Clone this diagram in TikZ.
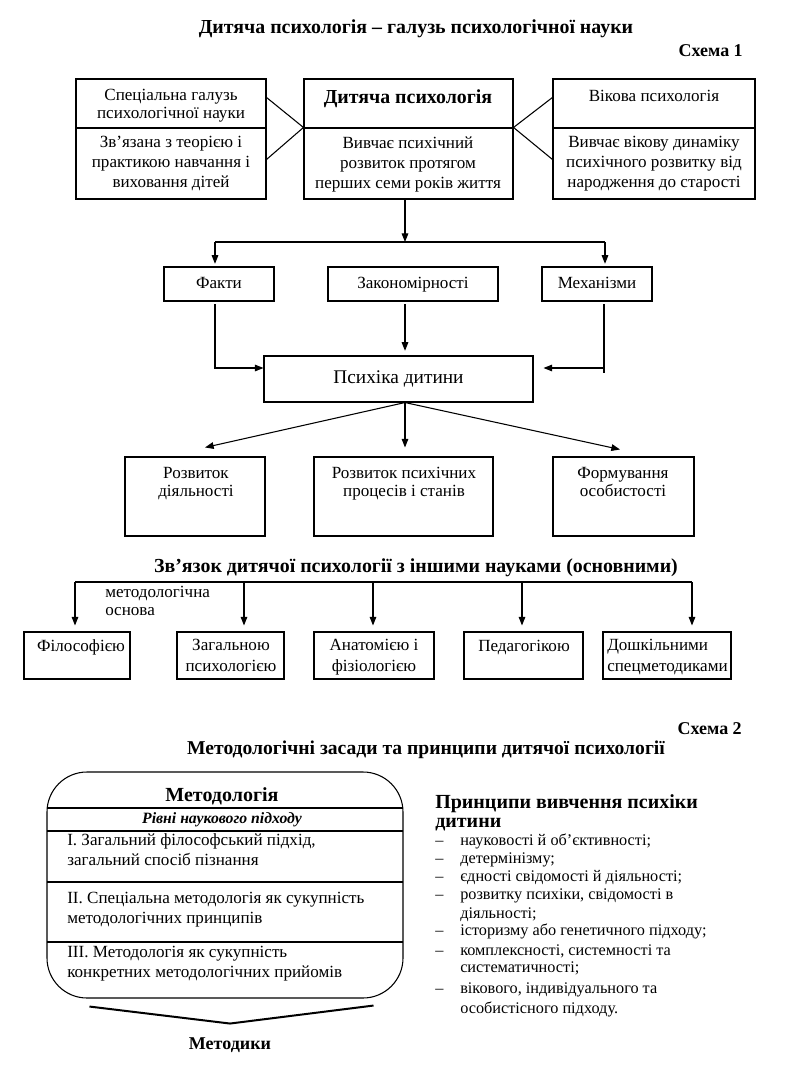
\documentclass[tikz,border=0pt]{standalone}
\usepackage{fontspec}
\setmainfont{Liberation Serif}
\usetikzlibrary{arrows.meta,fit,calc}
\newcommand\fsz[2]{\fontsize{#1}{#2}\selectfont}
\begin{document}
\begin{tikzpicture}[x=0.75pt,y=-0.75pt,
  box/.style={draw,line width=0.8pt,inner sep=0pt},
  ln/.style={line width=0.8pt},
  arr/.style={line width=0.8pt,-{Triangle[length=6.5pt,width=5pt]}},
  sb/.style={execute at begin node=\strut,execute at end node=\strut},
  tx/.style={inner sep=0pt,align=center,font=\fsz{12.8}{15},sb},
  tl/.style={inner sep=0pt,align=left,font=\fsz{12.8}{15},sb},
  hd/.style={inner sep=0pt,align=center,font=\fsz{14.9}{17}\bfseries,sb},
  li/.style={inner sep=0pt,anchor=base west,font=\fsz{12.2}{13.5}},
]
\path[use as bounding box] (0,0) rectangle (785,1068);

% ---------- Scheme 1 ----------
\node[hd] (t1) at (416,29) {Дитяча психологія – галузь психологічної науки};
\node[hd,anchor=east,font=\fsz{13.5}{15}\bfseries] (s1) at (743,52) {Схема 1};

\node[box,fit={(76,79) (266,199)}] (L) {};
\node[box,fit={(304,79) (513,199)}] (M) {};
\node[box,fit={(553,79) (755,199)}] (R) {};
\draw[ln] (76,128) -- (266,128);
\draw[ln] (304,128) -- (513,128);
\draw[ln] (553,128) -- (755,128);

\draw[ln] ($(L.north east)+(0,19)$) -- ($(M.north west)+(0,49)$) -- ($(L.north east)+(0,81)$);
\draw[ln] ($(R.north west)+(0,19)$) -- ($(M.north east)+(0,49)$) -- ($(R.north west)+(0,81)$);

\node[tx,font=\fsz{12.8}{13.5}] (Lt) at (171,107) {Спеціальна галузь\\психологічної науки};
\node[tx] (Lb) at (171,165) {Зв’язана з теорією і\\практикою навчання і\\виховання дітей};
\node[hd] (Mt) at (408,99) {Дитяча психологія};
\node[tx] (Mb) at (408,166) {Вивчає психічний\\розвиток протягом\\перших семи років життя};
\node[tx] (Rt) at (654,97) {Вікова психологія};
\node[tx] (Rb) at (654,165) {Вивчає вікову динаміку\\психічного розвитку від\\народження до старості};

\node[box,fit={(164,267) (274,301)}] (F) {};
\node[box,fit={(328,267) (498,301)}] (Z) {};
\node[box,fit={(542,267) (652,301)}] (Mh) {};
\node[tx] (Ft) at (F) {Факти};
\node[tx] (Zt) at (Z) {Закономірності};
\node[tx] (Mht) at (Mh) {Механізми};

\node[box,fit={(264,356) (533,402)}] (P) {};
\node[tx,font=\fsz{14.5}{17}] (Pt) at (P) {Психіка дитини};

\node[box,fit={(125,457) (265,536)}] (B1) {};
\node[box,fit={(314,457) (493,536)}] (B2) {};
\node[box,fit={(553,457) (694,536)}] (B3) {};
\node[tx,font=\fsz{12.8}{13.5}] (B1t) at (196,485) {Розвиток\\діяльності};
\node[tx,font=\fsz{12.8}{13.5}] (B2t) at (404,485) {Розвиток психічних\\процесів і станів};
\node[tx,font=\fsz{12.8}{13.5}] (B3t) at (623,485) {Формування\\особистості};

\coordinate (j) at (405,242);
\coordinate (jl) at (215,242);
\coordinate (jr) at (605,242);
\coordinate (fy) at (0,368);
\coordinate (mx) at (604,373);
\draw[arr] (j |- M.south) -- (j);
\draw[ln] (jl) -- (jr);
\draw[arr,shorten >=2pt] (jl) -- (jl |- F.north);
\draw[arr,shorten >=2pt] (jr) -- (jr |- Mh.north);
\draw[arr,shorten <=2pt] (jl |- F.south) |- (P.west |- fy);
\draw[arr,shorten <=2pt,shorten >=3.5pt] (j |- Z.south) -- (j |- P.north);
\draw[ln,shorten <=2pt] (mx |- Mh.south) -- (mx);
\draw[arr,shorten >=7.5pt] (mx |- fy) -- (P.east |- fy);

\draw[arr] (j |- P.south) -- ($(B1.north)+(10,-9)$);
\draw[arr] (j |- P.south) -- ($(j |- B2.north)+(0,-9)$);
\draw[arr] (j |- P.south) -- ($(B3.north)+(-3.5,-7)$);

% ---------- Links with other sciences ----------
\node[hd] (t2) at (416,568) {Зв’язок дитячої психології з іншими науками (основними)};
\coordinate (h1) at (75,582);
\coordinate (h2) at (244,582);
\coordinate (h3) at (373,582);
\coordinate (h4) at (522,582);
\coordinate (h5) at (692,582);
\draw[ln] (h1) -- (h5);

\node[box,fit={(24,632) (130,679)}] (S1) {};
\node[box,fit={(177,632) (284,679)}] (S2) {};
\node[box,fit={(314,632) (434,679)}] (S3) {};
\node[box,fit={(464,632) (583,679)}] (S4) {};
\node[box,fit={(603,632) (731,679)}] (S5) {};
\foreach \i in {1,...,5}{
  \draw[arr,shorten >=4.5pt] (h\i) -- (h\i |- S\i.north);
}
\node[tx] (S1t) at (81,647) {Філософією};
\node[tx,font=\fsz{12.8}{15.75}] (S2t) at (231,658) {Загальною\\психологією};
\node[tx,font=\fsz{12.8}{15.75}] (S3t) at (374,658) {Анатомією і\\фізіологією};
\node[tx] (S4t) at (524,647) {Педагогікою};
\node[tl,anchor=west,font=\fsz{12.8}{15.75}] (S5t) at (607,658) {Дошкільними\\спецметодиками};
\node[tl,anchor=west,font=\fsz{12.8}{13.5}] (mo) at (105,604) {методологічна\\основа};

% ---------- Scheme 2 ----------
\node[hd,anchor=east,font=\fsz{13.5}{15}\bfseries] (s2) at (742,730) {Схема 2};
\node[hd,font=\fsz{14.7}{16}\bfseries] (t3) at (426,750) {Методологічні засади та принципи дитячої психології};

\node[draw,line width=0.8pt,rounded corners=30pt,inner sep=0pt,fit={(47,772) (403,998)}] (Mbox) {};
\draw[ln] (47,808) -- (403,808);
\draw[ln] (47,831) -- (403,831);
\draw[ln] (47,882) -- (403,882);
\draw[ln] (47,942) -- (403,942);
\draw[line width=1.5pt] ($(Mbox.south west)+(43,8)$) -- ($(Mbox.south)+(5,25)$) -- ($(Mbox.south east)+(-30,7)$);

\node[hd,font=\fsz{15}{17}\bfseries] (Mh1) at (222,797) {Методологія};
\node[hd,font=\fsz{11.8}{13}\bfseries\itshape] (Mh2) at (222,820) {Рівні наукового підходу};
\node[tl,anchor=west] (Ml1) at (67,853) {I. Загальний філософський підхід,\\загальний спосіб пізнання};
\node[tl,anchor=west] (Ml2) at (67,911) {II. Спеціальна методологія як сукупність\\методологічних принципів};
\node[tl,anchor=west] (Ml3) at (67,965) {III. Методологія як сукупність\\конкретних методологічних прийомів};
\node[hd,font=\fsz{13.5}{15}\bfseries] (Mk) at (230,1045) {Методики};

\node[tl,anchor=west,font=\fsz{15}{14}\bfseries] (Pr) at (435,814) {Принципи вивчення психіки\\дитини};
\foreach \n/\y in {1/845,2/863,3/881,4/899,6/935,7/955,9/993}{
  \node[li] (d\n) at (435,\y) {–};
}
\node[li] (p1) at (460,845) {науковості й об’єктивності;};
\node[li] (p2) at (460,863) {детермінізму;};
\node[li] (p3) at (460,881) {єдності свідомості й діяльності;};
\node[li] (p4) at (460,899) {розвитку психіки, свідомості в};
\node[li] (p5) at (460,918) {діяльності;};
\node[li] (p6) at (460,935) {історизму або генетичного підходу;};
\node[li] (p7) at (460,955) {комплексності, системності та};
\node[li] (p8) at (460,972) {систематичності;};
\node[li] (p9) at (460,993) {вікового, індивідуального та};
\node[li] (p10) at (460,1013) {особистісного підходу.};
\end{tikzpicture}
\end{document}
